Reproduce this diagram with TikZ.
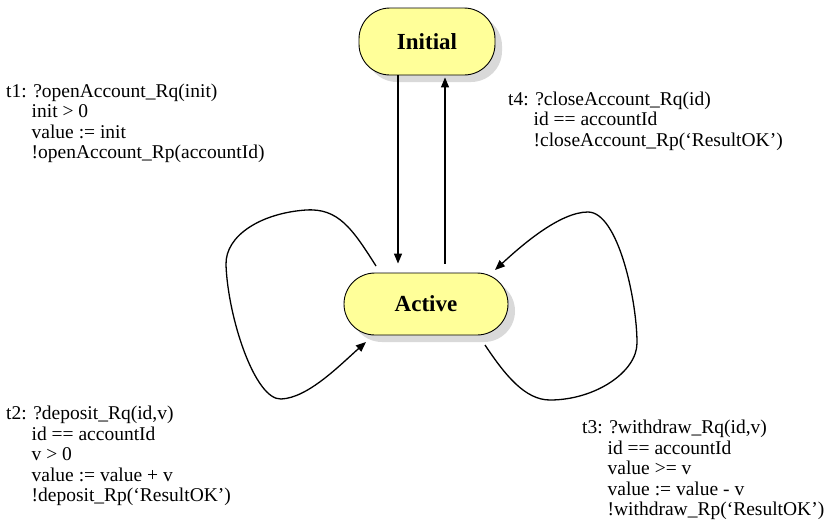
\documentclass[tikz,border=0pt]{standalone}
\usepackage{fontspec}
\setmainfont{Liberation Serif}
\usetikzlibrary{arrows.meta,shadows}
\definecolor{stfill}{RGB}{255,255,153}
\definecolor{shade}{RGB}{217,217,217}
\begin{document}
\begin{tikzpicture}[x=1pt,y=-1pt,
  state/.style={draw=black, line width=0.9pt, fill=stfill, rounded corners=31pt,
    inner sep=0pt, font=\fontsize{23}{26}\selectfont\bfseries,
    drop shadow={shadow xshift=7pt, shadow yshift=-7pt, fill=shade, opacity=1}},
  lbl/.style={anchor=base west, inner sep=0pt, align=left,
    font=\fontsize{19.5}{20.5}\selectfont},
  arr/.style={line width=1.3pt, -{Triangle[length=10pt,width=8pt]}},
  ln/.style={line width=1.3pt}]
\useasboundingbox (0,0) rectangle (829,531);
\node[state, minimum width=136pt, minimum height=67pt] (init) at (427,41.5) {Initial};
\node[state, minimum width=164pt, minimum height=62pt] (act) at (426,304) {Active};
% vertical transitions
\draw[arr] ([xshift=-29pt]init.south) -- ([xshift=-28pt,yshift=9pt]act.north);
\draw[arr] ([xshift=19pt,yshift=9pt]act.north) -- ([xshift=18pt,yshift=-2pt]init.south);
% loops
\coordinate (l0) at (376,266);
\coordinate (l1) at (366,342);
\draw[arr] (l0) .. controls (352,228) and (338,208) .. (306,210)
  .. controls (262,213) and (225,235) .. (226,265)
  .. controls (228,318) and (255,400) .. (281,399)
  .. controls (308,398) and (340,365) .. (l1);
\coordinate (r0) at (485,345);
\coordinate (r1) at (495,270);
\draw[arr] (r0) .. controls (505,375) and (525,400) .. (550,400)
  .. controls (595,400) and (637,372) .. (637,343)
  .. controls (637,300) and (618,212) .. (588,212)
  .. controls (560,212) and (522,245) .. (r1);
% labels (anchor = baseline of the last line)
\node[lbl] (t1) at (6,158.5) {t1: ?openAccount\_Rq(init)\\
  \phantom{t1:}\ init > 0\\
  \phantom{t1:}\ value := init\\
  \phantom{t1:}\ !openAccount\_Rp(accountId)};
\node[lbl] (t4) at (508,146) {t4: ?closeAccount\_Rq(id)\\
  \phantom{t4:}\ id == accountId\\
  \phantom{t4:}\ !closeAccount\_Rp(`ResultOK')};
\node[lbl] (t2) at (6,501.5) {t2: ?deposit\_Rq(id,v)\\
  \phantom{t2:}\ id == accountId\\
  \phantom{t2:}\ v > 0\\
  \phantom{t2:}\ value := value + v\\
  \phantom{t2:}\ !deposit\_Rp(`ResultOK')};
\node[lbl] (t3) at (582,515.5) {t3: ?withdraw\_Rq(id,v)\\
  \phantom{t3:}\ id == accountId\\
  \phantom{t3:}\ value >= v\\
  \phantom{t3:}\ value := value - v\\
  \phantom{t3:}\ !withdraw\_Rp(`ResultOK')};
\end{tikzpicture}
\end{document}
